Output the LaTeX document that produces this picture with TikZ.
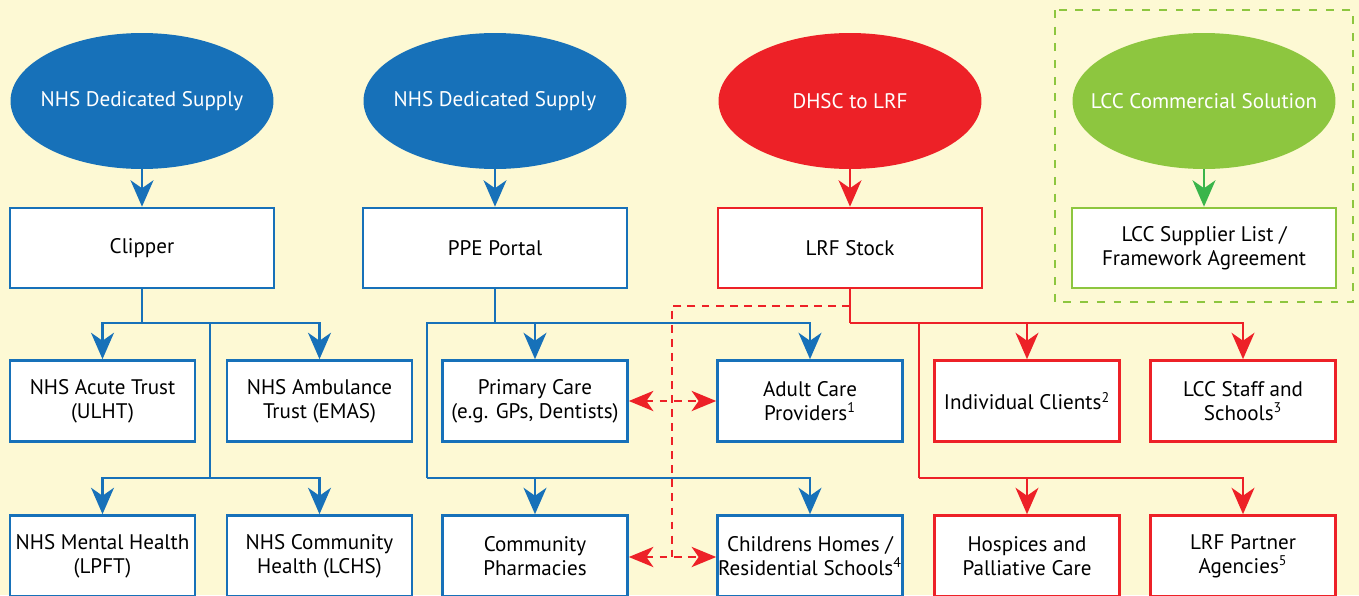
\documentclass[tikz,border=0pt]{standalone}
\usepackage{fontspec}
\setmainfont{PT Sans}
\usepackage{tikz}
\usetikzlibrary{arrows.meta,shapes.geometric}

\definecolor{nhsBlue}{HTML}{1771B9}
\definecolor{lrfRed}{HTML}{ED2127}
\definecolor{lccGreen}{HTML}{8DC63F}
\definecolor{lccArrow}{HTML}{3AB54A}
\definecolor{paper}{HTML}{FDF9D4}

\newcommand{\sourceText}[1]{\makebox[0pt]{#1}}

\begin{document}
\begin{tikzpicture}[x=0.02cm,y=-0.02cm,
    boxfont/.style={font=\fontsize{12}{13.6}\selectfont},
    source/.style={ellipse,boxfont,inner sep=0pt,minimum width=5.26cm,minimum height=2.72cm,text=white},
    target/.style={draw,boxfont,line width=1.5pt,fill=white,text=black,align=center,inner xsep=0pt,minimum width=3.7cm,minimum height=1.62cm},
    wide/.style={minimum width=5.28cm,minimum height=1.6cm},
    link/.style={line width=1.5pt},
    feed/.style={link,-{Stealth[length=15pt,width=13pt,inset=4.5pt]}},
    dashLine/.style={line width=1.4pt,lrfRed,dash pattern=on 4.5pt off 3.5pt},
    dashArrow/.style={dashLine,{Stealth[length=14pt,width=11.5pt,inset=4pt]}-{Stealth[length=14pt,width=11.5pt,inset=4pt]}}]
    \fill[paper] (0,0) rectangle (1359,595);
    \useasboundingbox (0,0) rectangle (1359,595);

    % sources
    \node[source,fill=nhsBlue](clipperSupply) at (142,101) {\sourceText{NHS Dedicated Supply}};
    \node[source,fill=nhsBlue](portalSupply) at (495,101) {\sourceText{NHS Dedicated Supply}};
    \node[source,fill=lrfRed](dhscSupply) at (850,101) {\sourceText{DHSC to LRF}};
    \node[source,fill=lccGreen](lccSolution) at (1204,101) {\sourceText{LCC Commercial Solution}};

    % stock holders
    \node[target,wide,draw=nhsBlue](clipper) at (142,248) {Clipper};
    \node[target,wide,draw=nhsBlue](ppePortal) at (495,248) {PPE Portal};
    \node[target,wide,draw=lrfRed](lrfStock) at (850,248) {LRF Stock};
    \node[target,wide,draw=lccGreen](lccSupplier) at (1204,248) {LCC Supplier List /\\Framework Agreement};
    \draw[lccGreen,line width=1.3pt,dash pattern=on 4.5pt off 5pt] (1055,10) rectangle (1353,302);

    % receivers
    \node[target,draw=nhsBlue](acuteTrust) at (102.5,401) {NHS Acute Trust\\(ULHT)};
    \node[target,draw=nhsBlue](ambulanceTrust) at (319.5,401) {NHS Ambulance\\Trust (EMAS)};
    \node[target,draw=nhsBlue](primaryCare) at (535,401) {Primary Care\\(e.g. GPs, Dentists)};
    \node[target,draw=nhsBlue](adultCare) at (810,401) {Adult Care\\Providers\textsuperscript{1}};
    \node[target,draw=lrfRed](individualClients) at (1027,401) {Individual Clients\textsuperscript{2}};
    \node[target,draw=lrfRed](lccStaff) at (1243,401) {LCC Staff and\\Schools\textsuperscript{3}};

    \node[target,draw=nhsBlue](mentalHealth) at (102.5,556) {NHS Mental Health\\(LPFT)};
    \node[target,draw=nhsBlue](communityHealth) at (319.5,556) {NHS Community\\Health (LCHS)};
    \node[target,draw=nhsBlue](pharmacies) at (535,556) {Community\\Pharmacies};
    \node[target,draw=nhsBlue](childrensHomes) at (810,556) {Childrens Homes /\\Residential Schools\textsuperscript{4}};
    \node[target,draw=lrfRed](hospices) at (1027,556) {Hospices and\\Palliative Care};
    \node[target,draw=lrfRed](partnerAgencies) at (1243,556) {LRF Partner\\Agencies\textsuperscript{5}};

    \coordinate (clipperSplit) at (142,323);
    \coordinate (clipperDrop) at (210,323);
    \coordinate (clipperLow) at (210,478);
    \coordinate (ppeSplit) at (495,323);
    \coordinate (ppeLow) at (427,478);
    \coordinate (lrfSplit) at (850,323);
    \coordinate (lrfDrop) at (919,323);
    \coordinate (lrfLow) at (919,478);
    \coordinate (dashStart) at (850,306);
    \coordinate (dashEnd) at (672,557);

    % supply lines
    \draw[feed,nhsBlue] (clipperSupply) -- (clipper);
    \draw[feed,nhsBlue] (portalSupply) -- (ppePortal);
    \draw[feed,lrfRed] (dhscSupply) -- (lrfStock);
    \draw[feed,lccArrow] (lccSolution) -- (lccSupplier);

    \draw[link,nhsBlue] (clipper.south) -- (clipperSplit);
    \draw[feed,nhsBlue] (clipperSplit) -| (acuteTrust.north);
    \draw[feed,nhsBlue] (clipperSplit) -| (ambulanceTrust.north);
    \draw[link,nhsBlue] (clipperDrop) -- (clipperLow);
    \draw[feed,nhsBlue] (clipperLow) -| (mentalHealth.north);
    \draw[feed,nhsBlue] (clipperLow) -| (communityHealth.north);

    \draw[link,nhsBlue] (ppePortal.south) -- (ppeSplit);
    \draw[feed,nhsBlue] (ppeSplit) -| (primaryCare.north);
    \draw[feed,nhsBlue] (ppeSplit) -| (adultCare.north);
    \draw[link,nhsBlue] (ppeSplit) -| (ppeLow);
    \draw[feed,nhsBlue] (ppeLow) -| (pharmacies.north);
    \draw[feed,nhsBlue] (ppeLow) -| (childrensHomes.north);

    \draw[link,lrfRed] (lrfStock.south) -- (lrfSplit);
    \draw[feed,lrfRed] (lrfSplit) -| (individualClients.north);
    \draw[feed,lrfRed] (lrfSplit) -| (lccStaff.north);
    \draw[link,lrfRed] (lrfDrop) -- (lrfLow);
    \draw[feed,lrfRed] (lrfLow) -| (hospices.north);
    \draw[feed,lrfRed] (lrfLow) -| (partnerAgencies.north);

    % LRF stock shared with care providers
    \draw[dashLine] (dashStart) -| (dashEnd);
    \draw[dashArrow] (primaryCare.east) -- (adultCare.west);
    \draw[dashArrow] (pharmacies.east |- dashEnd) -- (childrensHomes.west |- dashEnd);
\end{tikzpicture}
\end{document}
